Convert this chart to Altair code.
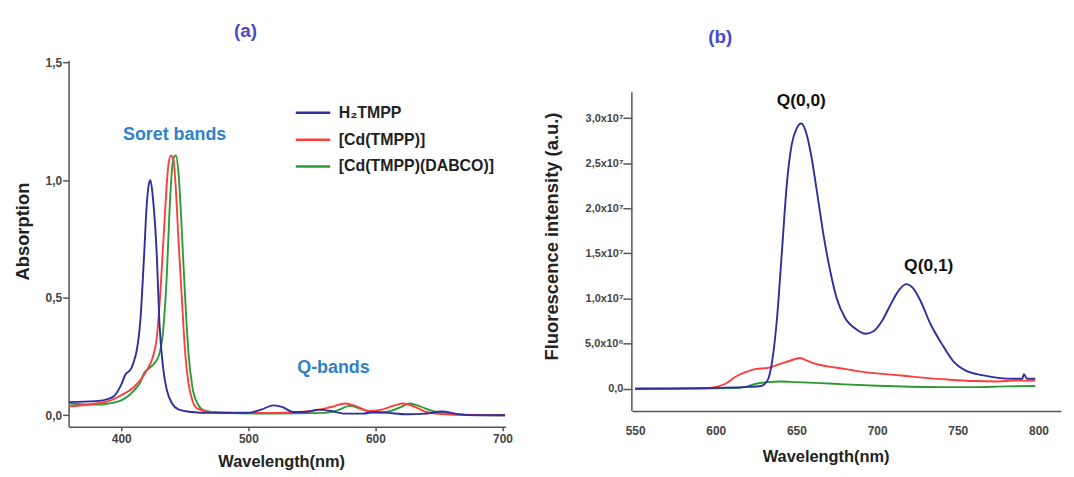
import altair as alt
import pandas as pd

FONT = "Liberation Sans"
names = ["H₂TMPP", "[Cd(TMPP)]", "[Cd(TMPP)(DABCO)]"]
colors = ["#2e2e9e", "#ff3d3d", "#2e9a36"]

# ---------- (a) absorption ----------
wl_h2 = [359, 380, 390, 395, 400, 403, 408, 410, 412, 415, 418, 420, 422, 423, 425, 428, 430, 433, 436, 440,
         445, 455, 470, 500, 510, 520, 527, 535, 545, 555, 565, 575, 590, 600, 610, 625, 640, 652, 665, 680, 702]
a_h2 = [0.056, 0.06, 0.07, 0.085, 0.13, 0.17, 0.2, 0.23, 0.27, 0.40, 0.68, 0.89, 0.99, 1.0, 0.92, 0.68, 0.40, 0.20, 0.105, 0.05,
        0.025, 0.014, 0.01, 0.011, 0.024, 0.042, 0.035, 0.014, 0.014, 0.024, 0.018, 0.007, 0.007, 0.014, 0.01, 0.004, 0.007, 0.016, 0.005, 0.0, 0.0]

wl_cd = [359, 380, 390, 400, 410, 420, 425, 428, 431, 434, 437, 439, 441, 443, 445, 448, 450, 453, 456, 460,
         470, 500, 520, 550, 565, 576, 585, 595, 605, 615, 622, 630, 640, 655, 702]
a_cd = [0.038, 0.05, 0.06, 0.085, 0.12, 0.19, 0.25, 0.33, 0.54, 0.82, 1.06, 1.105, 1.09, 0.96, 0.75, 0.47, 0.29, 0.134, 0.063, 0.028,
        0.014, 0.01, 0.01, 0.018, 0.035, 0.05, 0.038, 0.018, 0.024, 0.042, 0.05, 0.038, 0.014, 0.004, 0.0]

wl_dab = [359, 380, 390, 400, 410, 415, 418, 422, 426, 430, 433, 436, 438, 441, 443, 445, 448, 450, 453, 456,
          460, 465, 480, 520, 560, 570, 580, 590, 600, 612, 620, 627, 635, 645, 660, 702]
a_dab = [0.05, 0.045, 0.05, 0.063, 0.105, 0.14, 0.18, 0.20, 0.22, 0.26, 0.36, 0.61, 0.87, 1.09, 1.105, 1.035, 0.75, 0.53, 0.26, 0.12,
         0.05, 0.021, 0.01, 0.007, 0.01, 0.021, 0.04, 0.024, 0.01, 0.018, 0.035, 0.05, 0.038, 0.018, 0.004, 0.0]

# ---------- (b) fluorescence (values in units of 10^6) ----------
wl_f_h2 = [550, 600, 620, 628, 632, 635, 638, 641, 644, 647, 650, 653, 656, 659, 663, 667, 671, 675, 680, 687,
           693, 698, 703, 708, 713, 718, 722, 727, 733, 740, 747, 755, 765, 775, 785, 790, 791, 793, 798]
f_h2 = [0, 0.1, 0.2, 0.3, 0.9, 3.1, 7.9, 15.2, 22.6, 27, 28.8, 29.4, 28.4, 26.0, 21.5, 16.8, 13.0, 10.0, 7.9, 6.6,
        6.1, 6.4, 7.5, 9.2, 10.8, 11.6, 11.2, 9.7, 7.2, 5.0, 3.1, 2.0, 1.5, 1.2, 1.1, 1.1, 1.6, 1.1, 1.1]

wl_f_cd = [550, 595, 600, 606, 612, 618, 625, 632, 640, 646, 652, 656, 662, 670, 680, 690, 700, 715, 730, 745, 760, 775, 785, 798]
f_cd = [0, 0.05, 0.2, 0.55, 1.3, 1.8, 2.2, 2.3, 2.75, 3.1, 3.4, 3.15, 2.75, 2.45, 2.2, 1.9, 1.7, 1.47, 1.2, 1.0, 0.85, 0.8, 0.9, 0.9]

wl_f_dab = [550, 600, 615, 625, 632, 640, 650, 665, 680, 700, 720, 740, 760, 780, 798]
f_dab = [0, 0.05, 0.1, 0.55, 0.73, 0.8, 0.73, 0.62, 0.48, 0.33, 0.22, 0.18, 0.18, 0.26, 0.3]

ann_a_text = ["Soret bands", "Q-bands"]
ann_a_x = [442, 567]
ann_a_y = [1.19, 0.2]
ann_b_text = ["Q(0,0)", "Q(0,1)"]
ann_b_x = [653, 732]
ann_b_y = [31.9, 13.6]

# axis extents
XA = [358.6, 702.5]
YA = [-0.049, 1.51]
XB = [548, 814]
YB = [-2.456e6, 3.642e7]
YB_AXIS_TOP = 3.286e7


def long(series, scale=1.0):
    rows = []
    for k, (name, xs, ys) in enumerate(series):
        for i, (x, y) in enumerate(zip(xs, ys)):
            rows.append({"series": name, "wl": x, "v": y * scale, "k": k, "i": i})
    return pd.DataFrame(rows)


df_a = long([(names[2], wl_dab, a_dab), (names[1], wl_cd, a_cd), (names[0], wl_h2, a_h2)])
df_b = long([(names[2], wl_f_dab, f_dab), (names[1], wl_f_cd, f_cd), (names[0], wl_f_h2, f_h2)], 1e6)

lab = dict(labelFont=FONT, labelFontWeight="bold", labelColor="#444",
           titleFont=FONT, titleFontWeight="bold", titleColor="#222",
           domainColor="#555", domainWidth=1.5, tickColor="#555", tickWidth=1.5, grid=False)

color_enc = alt.Color("series:N", scale=alt.Scale(domain=names, range=colors),
                      legend=alt.Legend(orient="none", legendX=227, legendY=34, title=None,
                                        symbolType="stroke", symbolSize=1200, symbolStrokeWidth=2.5,
                                        labelFont=FONT, labelFontSize=16, labelFontWeight="bold",
                                        labelColor="#222", rowPadding=-25, gridAlign="all",
                                        labelOffset=7))

xa = alt.X("wl:Q", scale=alt.Scale(domain=XA, nice=False, zero=False),
           axis=alt.Axis(title="Wavelength(nm)", values=[400, 500, 600, 700], format="d",
                         labelFontSize=12, titleFontSize=16.5,
                         tickSize=4, labelPadding=3, titlePadding=9, titleX=214, **lab))
ya = alt.Y("v:Q", scale=alt.Scale(domain=YA, nice=False, zero=False),
           axis=alt.Axis(title="Absorption", values=[0, 0.5, 1.0, 1.5],
                         labelExpr="replace(format(datum.value, '.1f'), '.', ',')",
                         labelFontSize=12, titleFontSize=18.5,
                         tickSize=6, labelPadding=1, titlePadding=13, titleY=172, **lab))

lines_a = alt.Chart(df_a).mark_line(strokeWidth=1.9, interpolate="monotone").encode(
    x=xa, y=ya, color=color_enc, order="i:Q")

ann_a = alt.Chart(pd.DataFrame({"x": ann_a_x, "y": ann_a_y, "t": ann_a_text})).mark_text(
    font=FONT, fontSize=18, fontWeight="bold", color="#2f7fc9").encode(
    x=alt.X("x:Q"), y=alt.Y("y:Q"), text="t:N")

panel_a = alt.layer(lines_a, ann_a).properties(
    width=440, height=369,
    title=alt.TitleParams("(a)", font=FONT, fontSize=19, fontWeight="bold", color="#4a4ac8",
                          anchor="middle", dx=-42, offset=16))

# ---------- panel b ----------
fmt_b = ("datum.value == 0 ? '0,0' : (datum.value < 1e7 ? "
         "replace(format(datum.value/1e6, '.1f'), '.', ',') + 'x10⁶' : "
         "replace(format(datum.value/1e7, '.1f'), '.', ',') + 'x10⁷')")

xb = alt.X("wl:Q", scale=alt.Scale(domain=XB, nice=False, zero=False),
           axis=alt.Axis(title="Wavelength(nm)", values=[550, 600, 650, 700, 750, 800], format="d",
                         labelFontSize=12, titleFontSize=16.5,
                         ticks=False, labelPadding=15, titlePadding=12, titleX=195, **lab))
yb = alt.Y("v:Q", scale=alt.Scale(domain=YB, nice=False, zero=False),
           axis=alt.Axis(title="Fluorescence intensity (a.u.)", domain=False,
                         values=[0, 5e6, 1e7, 1.5e7, 2e7, 2.5e7, 3e7], labelExpr=fmt_b,
                         labelFontSize=11, titleFontSize=18.5,
                         tickSize=9, labelPadding=0, titlePadding=23, titleY=177, **lab))

lines_b = alt.Chart(df_b).mark_line(strokeWidth=1.9, interpolate="monotone").encode(
    x=xb, y=yb, color=alt.Color("series:N", scale=alt.Scale(domain=names, range=colors), legend=None),
    order="i:Q")

axis_line_b = alt.Chart(pd.DataFrame({"x": [XB[0]], "y": [YB[0]], "y2": [YB_AXIS_TOP]})).mark_rule(
    color="#555", strokeWidth=1.5).encode(x="x:Q", y="y:Q", y2="y2:Q")

ann_b = alt.Chart(pd.DataFrame({"x": ann_b_x, "y": [v * 1e6 for v in ann_b_y], "t": ann_b_text})).mark_text(
    font=FONT, fontSize=17.5, fontWeight="bold", color="#111").encode(
    x=alt.X("x:Q"), y=alt.Y("y:Q"), text="t:N")

panel_b = alt.layer(axis_line_b, lines_b, ann_b).properties(
    width=432, height=353,
    title=alt.TitleParams("(b)", font=FONT, fontSize=19, fontWeight="bold",
                          color="#4a4ac8", anchor="middle", dx=-127, offset=13))

chart = alt.hconcat(panel_a, panel_b, spacing=30).resolve_scale(
    color="independent").resolve_legend(color="independent").properties(
    padding={"top": 12, "left": 5, "right": 5, "bottom": 5}, background="white"
).configure_view(stroke="transparent", strokeWidth=0)

chart.save("out.html", embed_options={"renderer": "svg", "actions": False})
